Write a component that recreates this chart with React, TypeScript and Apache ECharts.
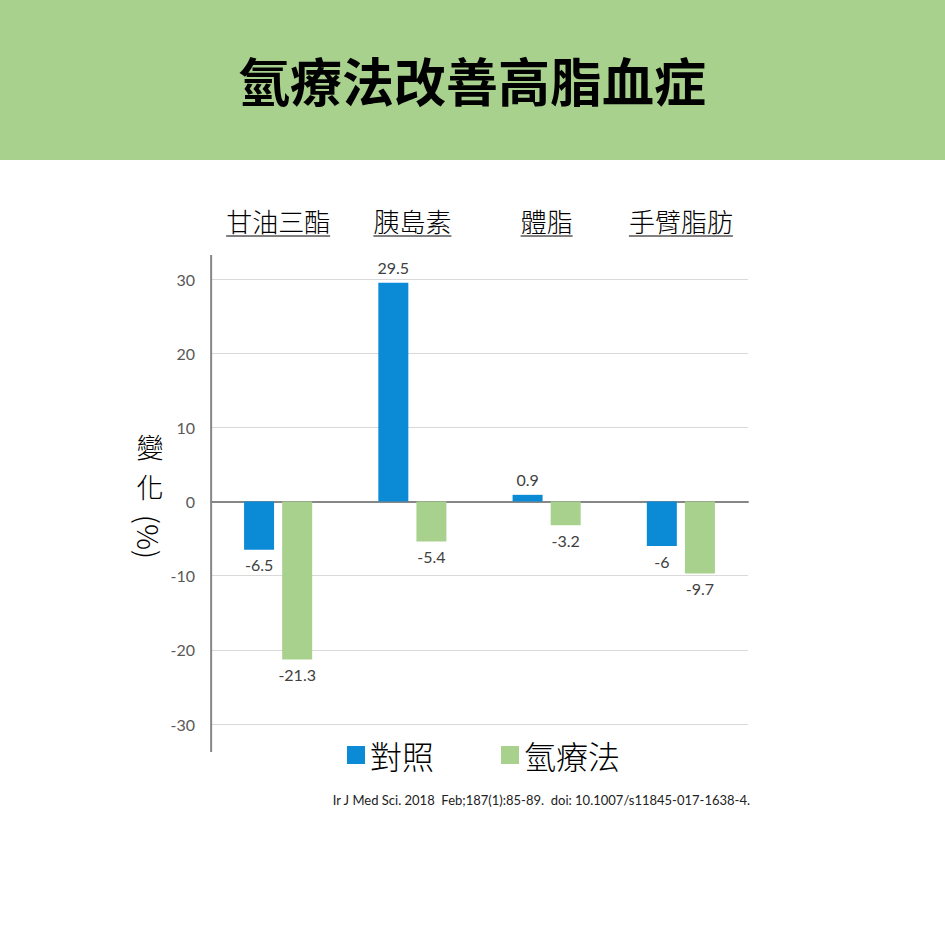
import { useEffect, useRef } from 'react'
import * as echarts from 'echarts'

// 資料
const categories = ['甘油三酯', '胰島素', '體脂', '手臂脂肪']
const controlValues = [-6.5, 29.5, 0.9, -6]
const hydrogenValues = [-21.3, -5.4, -3.2, -9.7]
const seriesNames = ['對照', '氫療法']
const citation = 'Ir J Med Sci. 2018  Feb;187(1):85-89.  doi: 10.1007/s11845-017-1638-4.'

const CJK = '"Noto Sans CJK TC", "Noto Sans CJK SC", sans-serif'
const NUM = 'Lato, "Open Sans", sans-serif'
const BLUE = '#0b8ad6'
const GREEN = '#a9d18e'
const CAT_SIZE = 26

const toData = (values: number[]) =>
  values.map((v) => ({
    value: v,
    label: { position: v >= 0 ? 'top' : 'bottom' }
  }))

const App: React.FC = () => {
  const chartRef = useRef<HTMLDivElement | null>(null)

  useEffect(() => {
    document.body.style.margin = '0'
    if (chartRef.current === null) return
    const chart = echarts.init(chartRef.current, null, { renderer: 'svg' })

    const barLabel = {
      show: true,
      distance: 7,
      fontSize: 16,
      fontFamily: NUM,
      color: '#404040'
    }

    chart.setOption({
      animation: false,
      backgroundColor: '#fff',
      grid: { left: 211, right: 197, top: 279, bottom: 221, containLabel: false },
      legend: {
        data: seriesNames,
        left: 347,
        top: 739,
        padding: 0,
        icon: 'rect',
        itemWidth: 18,
        itemHeight: 18,
        itemGap: 67,
        textStyle: { fontSize: 32, fontFamily: CJK, fontWeight: 300, color: '#000' }
      },
      xAxis: [
        {
          type: 'category',
          data: categories,
          axisLine: { onZero: true, lineStyle: { color: '#878787', width: 2 } },
          axisTick: { show: false },
          axisLabel: { show: false }
        },
        {
          type: 'category',
          data: categories,
          position: 'top',
          axisLine: { show: false },
          axisTick: { show: false },
          axisLabel: {
            interval: 0,
            margin: 46,
            fontSize: CAT_SIZE,
            lineHeight: 26,
            fontFamily: CJK,
            fontWeight: 300,
            color: '#000'
          }
        }
      ],
      yAxis: {
        type: 'value',
        min: -30,
        max: 30,
        interval: 10,
        axisLine: { show: false },
        axisTick: { show: false },
        axisLabel: { margin: 16, fontSize: 16, fontFamily: NUM, color: '#595959' },
        splitLine: { lineStyle: { color: '#d9d9d9', width: 1 } }
      },
      series: [
        {
          name: seriesNames[0],
          type: 'bar',
          data: toData(controlValues),
          barWidth: 30,
          barGap: '27%',
          itemStyle: { color: BLUE },
          label: barLabel
        },
        {
          name: seriesNames[1],
          type: 'bar',
          data: toData(hydrogenValues),
          barWidth: 30,
          barGap: '27%',
          itemStyle: { color: GREEN },
          label: barLabel
        }
      ]
    })

    // 位置計算
    const top = chart.convertToPixel({ yAxisIndex: 0 }, 30) as number
    const left = chart.convertToPixel({ xAxisIndex: 0 }, 0) as number - 67
    const underlines = categories.map((c, i) => {
      const cx = chart.convertToPixel({ xAxisIndex: 0 }, i) as number
      const w = c.length * CAT_SIZE
      return {
        type: 'line',
        shape: { x1: cx - w / 2, y1: top - 43, x2: cx + w / 2, y2: top - 43 },
        style: { stroke: '#000', lineWidth: 1 }
      }
    })

    const nameStyle = {
      fontSize: 27,
      lineHeight: 27,
      fontFamily: CJK,
      fontWeight: 300,
      fill: '#000',
      align: 'center',
      verticalAlign: 'middle'
    }

    chart.setOption({
      graphic: [
        { type: 'rect', shape: { x: 0, y: 0, width: 945, height: 160 }, style: { fill: GREEN }, z: 0 },
        {
          type: 'text',
          x: 472,
          y: 79,
          style: {
            text: '氫療法改善高脂血症',
            fontSize: 52,
            fontWeight: 700,
            fontFamily: CJK,
            fill: '#000',
            align: 'center',
            verticalAlign: 'middle'
          }
        },
        {
          type: 'line',
          shape: { x1: left, y1: top - 24, x2: left, y2: top + 473 },
          style: { stroke: '#878787', lineWidth: 2 },
          z: 10
        },
        { type: 'text', x: 150, y: 446, style: { ...nameStyle, text: '變' } },
        { type: 'text', x: 150, y: 486, style: { ...nameStyle, text: '化' } },
        {
          type: 'text',
          x: 150,
          y: 537,
          rotation: -Math.PI / 2,
          style: { ...nameStyle, fontSize: 29, text: '(%)' }
        },
        {
          type: 'text',
          x: 750,
          y: 800,
          style: {
            text: citation,
            fontSize: 13,
            fontFamily: NUM,
            fill: '#222',
            align: 'right',
            verticalAlign: 'middle'
          }
        },
        ...underlines
      ]
    })

    return () => {
      chart.dispose()
    }
  }, [])

  return <div ref={chartRef} style={{ width: 945, height: 945 }}></div>
}

export default App
